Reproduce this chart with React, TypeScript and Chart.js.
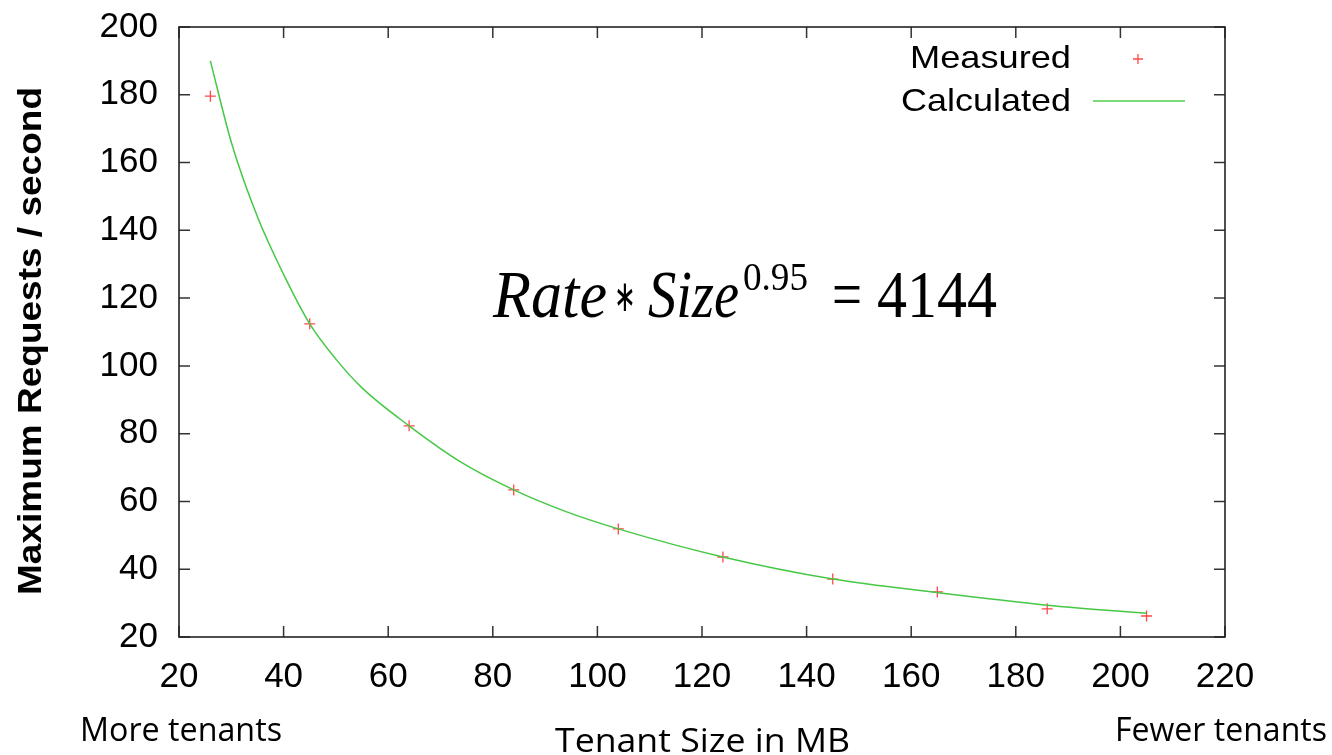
import React, { useEffect, useRef } from "react";
import { Chart, registerables } from "chart.js";

Chart.register(...registerables);

// Measured data points (tenant size in MB, max requests / second)
const measuredSize = [26, 45, 64, 84, 104, 124, 145, 165, 186, 205];
const measuredRate = [179.6, 112.4, 82.3, 63.4, 51.9, 43.6, 37.1, 33.3, 28.3, 26.2];

// Calculated curve
const calcSize = [26, 30, 35, 40, 45, 50, 55, 64, 74, 84, 94, 104, 124, 145, 165, 186, 205];
const calcRate = [190, 166, 144, 127, 112.4, 102, 93.5, 82.3, 71.5, 63.4, 57, 51.9, 43.6, 37.1, 33.1, 29.4, 27];

const xTicks = [20, 40, 60, 80, 100, 120, 140, 160, 180, 200, 220];
const yTicks = [20, 40, 60, 80, 100, 120, 140, 160, 180, 200];

const legendLabels = ["Measured", "Calculated"];
const yTitle = "Maximum Requests / second";
const xTitle = "Tenant Size in MB";
const leftNote = "More tenants";
const rightNote = "Fewer tenants";

function fitText(
  ctx: CanvasRenderingContext2D,
  text: string,
  font: string,
  x: number,
  y: number,
  width: number,
  align: "left" | "right" | "center",
  baseline: CanvasTextBaseline = "alphabetic"
) {
  ctx.save();
  ctx.font = font;
  const w = ctx.measureText(text).width || 1;
  const s = width / w;
  const x0 = align === "left" ? x : align === "right" ? x - width : x - width / 2;
  ctx.translate(x0, y);
  ctx.scale(s, 1);
  ctx.textAlign = "left";
  ctx.textBaseline = baseline;
  ctx.fillText(text, 0, 0);
  ctx.restore();
}

const overlayPlugin = {
  id: "overlay",
  afterDraw(chart: any) {
    const { ctx, chartArea: a, scales } = chart;
    const xs = scales.x;
    const ys = scales.y;
    ctx.save();
    // frame + inward ticks
    ctx.strokeStyle = "#333";
    ctx.lineWidth = 1.5;
    ctx.beginPath();
    xTicks.forEach((v) => {
      const p = xs.getPixelForValue(v);
      ctx.moveTo(p, a.bottom);
      ctx.lineTo(p, a.bottom - 11);
      ctx.moveTo(p, a.top);
      ctx.lineTo(p, a.top + 11);
    });
    yTicks.forEach((v) => {
      const p = ys.getPixelForValue(v);
      ctx.moveTo(a.left, p);
      ctx.lineTo(a.left + 11, p);
      ctx.moveTo(a.right, p);
      ctx.lineTo(a.right - 11, p);
    });
    ctx.stroke();
    ctx.strokeStyle = "#222";
    ctx.lineWidth = 1.6;
    ctx.strokeRect(a.left, a.top, a.right - a.left, a.bottom - a.top);

    ctx.fillStyle = "#000";
    // legend
    fitText(ctx, legendLabels[0], "32px 'Liberation Sans', Arial, sans-serif", 1071, 68, 161, "right");
    fitText(ctx, legendLabels[1], "32px 'Liberation Sans', Arial, sans-serif", 1071, 111, 170, "right");
    ctx.strokeStyle = "rgba(255,40,40,0.85)";
    ctx.lineWidth = 1.3;
    ctx.beginPath();
    ctx.moveTo(1133, 59);
    ctx.lineTo(1143, 59);
    ctx.moveTo(1138, 54);
    ctx.lineTo(1138, 64);
    ctx.stroke();
    ctx.strokeStyle = "rgb(80,205,80)";
    ctx.lineWidth = 1.5;
    ctx.beginPath();
    ctx.moveTo(1093, 101);
    ctx.lineTo(1185, 101);
    ctx.stroke();

    // formula
    const it = "italic 68px 'Liberation Serif', 'Times New Roman', serif";
    const up = "68px 'Liberation Serif', 'Times New Roman', serif";
    fitText(ctx, "Rate", it, 493, 317, 114, "left");
    fitText(ctx, "\u2217", "44px 'DejaVu Sans', sans-serif", 625, 300, 22, "center", "middle");
    fitText(ctx, "Size", it, 648, 317, 91, "left");
    fitText(ctx, "0.95", "40px 'Liberation Serif', 'Times New Roman', serif", 743, 290, 65, "left");
    fitText(ctx, "=", up, 832, 317, 30, "left");
    fitText(ctx, "4144", up, 877, 317, 120, "left");

    // axis title (y)
    ctx.save();
    ctx.translate(41, 341);
    ctx.rotate(-Math.PI / 2);
    fitText(ctx, yTitle, "bold 33px 'Liberation Sans', Arial, sans-serif", 0, 0, 508, "center");
    ctx.restore();

    // bottom notes
    const cal = "32px 'Open Sans', 'Noto Sans', sans-serif";
    fitText(ctx, leftNote, cal, 80, 741, 202, "left");
    fitText(ctx, xTitle, cal, 555, 752, 295, "left");
    fitText(ctx, rightNote, cal, 1115, 741, 212, "left");
    ctx.restore();
  },
};

export default function App() {
  const canvasRef = useRef<HTMLCanvasElement | null>(null);

  useEffect(() => {
    if (!canvasRef.current) return;
    const measured = measuredSize.map((x, i) => ({ x, y: measuredRate[i] }));
    const calculated = calcSize.map((x, i) => ({ x, y: calcRate[i] }));
    const tickFont = { family: "'Liberation Sans', Arial, sans-serif", size: 35 };
    const chart = new Chart(canvasRef.current, {
      type: "scatter",
      data: {
        datasets: [
          {
            label: legendLabels[1],
            data: calculated,
            showLine: true,
            borderColor: "rgb(70,200,70)",
            borderWidth: 1.5,
            pointRadius: 0,
            cubicInterpolationMode: "monotone",
            fill: false,
          } as any,
          {
            label: legendLabels[0],
            data: measured,
            pointStyle: "cross",
            pointRadius: 5.5,
            borderColor: "rgba(255,40,40,0.85)",
            backgroundColor: "rgba(255,40,40,0.85)",
            pointBorderWidth: 1.3,
            showLine: false,
          } as any,
        ],
      },
      options: {
        animation: false,
        responsive: true,
        maintainAspectRatio: false,
        layout: { padding: { top: 27, right: 107, left: 0, bottom: 0 } },
        plugins: {
          legend: { display: false },
          tooltip: { enabled: false },
        },
        scales: {
          x: {
            type: "linear",
            min: 20,
            max: 220,
            afterBuildTicks: (s: any) => {
              s.ticks = xTicks.map((v) => ({ value: v }));
            },
            afterFit: (s: any) => {
              s.height = 118;
              s.paddingLeft = 0;
              s.paddingRight = 0;
            },
            ticks: { font: tickFont, color: "#000", padding: 19, maxRotation: 0, autoSkip: false },
            grid: { display: false, drawTicks: false },
            border: { display: false },
          },
          y: {
            type: "linear",
            min: 20,
            max: 200,
            afterBuildTicks: (s: any) => {
              s.ticks = yTicks.map((v) => ({ value: v }));
            },
            afterFit: (s: any) => {
              s.width = 179;
              s.paddingTop = 0;
              s.paddingBottom = 0;
            },
            ticks: { font: tickFont, color: "#000", padding: 21, autoSkip: false },
            grid: { display: false, drawTicks: false },
            border: { display: false },
          },
        },
      } as any,
      plugins: [overlayPlugin],
    });
    return () => chart.destroy();
  }, []);

  return (
    <div style={{ position: "absolute", left: 0, top: 0, width: 1332, height: 755, background: "#fff" }}>
      <canvas ref={canvasRef} />
    </div>
  );
}
